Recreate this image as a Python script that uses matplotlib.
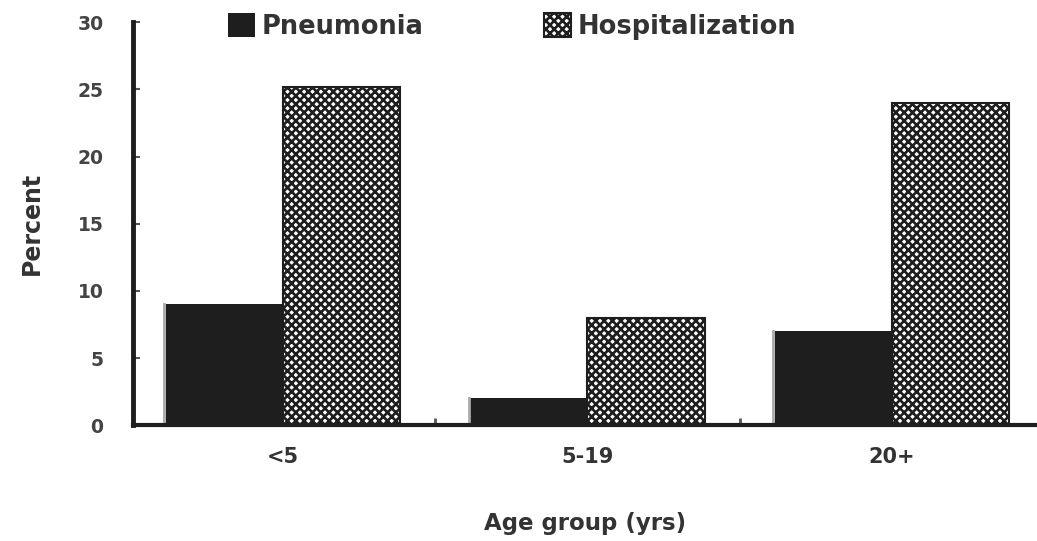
import matplotlib.pyplot as plt
import numpy as np

plt.rcParams['font.family'] = ['DejaVu Sans']
plt.rcParams['font.weight'] = 'bold'
plt.rcParams['hatch.linewidth'] = 1.9

# datos
grupos = ['<5', '5-19', '20+']
neumonia = [9, 2, 7]
hospitalizacion = [25.2, 8, 24]

fig = plt.figure(figsize=(10.37, 5.41), dpi=100)
ax = fig.add_axes([0.128, 0.214, 0.872, 0.745])

x = np.arange(len(grupos))
ancho = 0.385

ax.bar(x - ancho / 2, neumonia, ancho, color='#1e1e1e', edgecolor='#1e1e1e',
       linewidth=0, label='Pneumonia')
ax.bar(x + ancho / 2, hospitalizacion, ancho, color='white', edgecolor='#1e1e1e',
       hatch='xxxx', linewidth=1.5, label='Hospitalization')
# sombra gris a la izquierda de las barras negras
for xi, v in zip(x, neumonia):
    ax.plot([xi - ancho - 0.005] * 2, [0, v], color='#aaaaaa', lw=2, zorder=1)

ax.set_xlim(-0.493, 2.477)
ax.set_ylim(0, 30)
ax.set_yticks([0, 5, 10, 15, 20, 25, 30])
ax.set_xticks([0.5, 1.5], minor=True)
ax.set_xticks(x)
ax.set_xticklabels(grupos)
ax.tick_params(axis='x', which='major', length=0, pad=16, labelsize=15, labelcolor='#333333')
ax.tick_params(axis='x', which='minor', direction='in', length=5, width=2, color='#555555')
ax.tick_params(axis='y', direction='in', length=5, width=1.5, pad=21,
               labelsize=13.5, labelcolor='#444444', color='#555555')

for s in ['top', 'right']:
    ax.spines[s].set_visible(False)
ax.spines['left'].set_linewidth(3.5)
ax.spines['bottom'].set_linewidth(3)
ax.spines['left'].set_color('#1e1e1e')
ax.spines['bottom'].set_color('#1e1e1e')

ax.set_xlabel('Age group (yrs)', fontsize=16.5, fontweight='bold', labelpad=32, color='#333333')
ax.set_ylabel('Percent', fontsize=17, fontweight='bold', labelpad=24, color='#333333')

fig.legend(loc='upper left', bbox_to_anchor=(228 / 1037, 1 - 13 / 541), ncol=2, frameon=False,
           fontsize=18.5, handlelength=1.05, handleheight=1.05, columnspacing=4.7,
           handletextpad=0.25, borderpad=0, borderaxespad=0, labelcolor='#333333')

fig.savefig('out.png', dpi=100)
